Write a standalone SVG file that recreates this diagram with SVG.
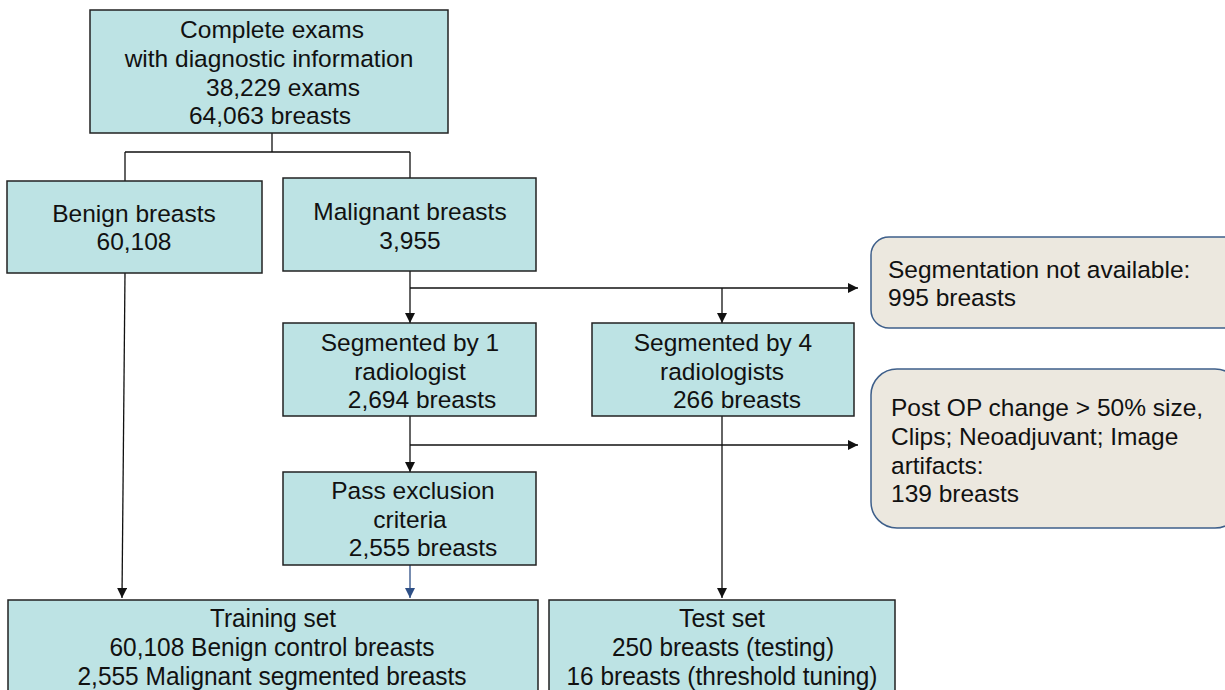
<svg xmlns="http://www.w3.org/2000/svg" width="1225" height="690" viewBox="0 0 1225 690">
<style>
.n{fill:#bde3e4;stroke:#222;stroke-width:1.5}
.r{fill:#ece8df;stroke:#3e5f8a;stroke-width:1.5}
text{font-family:"Liberation Sans",Arial,sans-serif;font-size:24.5px;fill:#111}
.c{text-anchor:middle}
.b{font-size:26px}
.l{fill:none;stroke:#111;stroke-width:1.3}
</style>
<defs>
<marker id="a" viewBox="0 0 10 10" refX="10" refY="5" markerWidth="10" markerHeight="10" markerUnits="userSpaceOnUse" orient="auto"><path d="M0,0 L10,5 L0,10 z" fill="#111"/></marker>
<marker id="ab" viewBox="0 0 10 10" refX="10" refY="5" markerWidth="10" markerHeight="10" markerUnits="userSpaceOnUse" orient="auto"><path d="M0,0 L10,5 L0,10 z" fill="#2e4f86"/></marker>
</defs>
<rect width="1225" height="690" fill="#fff"/>
<g id="connectors">
<path class="l" d="M272,133 V152 M125,152 H410 M125,152 V181 M410,152 V178"/>
<path class="l" d="M410,271 V323" marker-end="url(#a)"/>
<path class="l" d="M410,288 H858" marker-end="url(#a)"/>
<path class="l" d="M722,288 V323" marker-end="url(#a)"/>
<path class="l" d="M410,416 V472" marker-end="url(#a)"/>
<path class="l" d="M410,445 H858" marker-end="url(#a)"/>
<path class="l" d="M410,565 V598" style="stroke:#2e4f86" marker-end="url(#ab)"/>
<path class="l" d="M125,273 L122,598" marker-end="url(#a)"/>
<path class="l" d="M722,416 V598" marker-end="url(#a)"/>
</g>
<g id="complete">
<rect class="n" x="90" y="10" width="358" height="123"/>
<text class="c" x="272" y="38">Complete exams</text>
<text class="c" x="269" y="67">with diagnostic information</text>
<text class="c" x="283" y="96">38,229 exams</text>
<text class="c" x="270" y="124">64,063 breasts</text>
</g>
<g id="benign">
<rect class="n" x="7" y="181" width="255" height="92"/>
<text class="c" x="134" y="222">Benign breasts</text>
<text class="c" x="134" y="250">60,108</text>
</g>
<g id="malignant">
<rect class="n" x="283" y="178" width="253" height="93"/>
<text class="c" x="410" y="220">Malignant breasts</text>
<text class="c" x="410" y="249">3,955</text>
</g>
<g id="seg1">
<rect class="n" x="283" y="323" width="253" height="93"/>
<text class="c" x="410" y="351">Segmented by 1</text>
<text class="c" x="410" y="380">radiologist</text>
<text class="c" x="422" y="408">2,694 breasts</text>
</g>
<g id="seg4">
<rect class="n" x="592" y="323" width="262" height="93"/>
<text class="c" x="723" y="351">Segmented by 4</text>
<text class="c" x="722" y="380">radiologists</text>
<text class="c" x="737" y="408">266 breasts</text>
</g>
<g id="notavail">
<rect class="r" x="871" y="237" width="370" height="91" rx="18"/>
<text x="888" y="278">Segmentation not available:</text>
<text x="888" y="306">995 breasts</text>
</g>
<g id="postop">
<rect class="r" x="871" y="369" width="370" height="159" rx="26"/>
<text x="891" y="416">Post OP change &gt; 50% size,</text>
<text x="891" y="445">Clips; Neoadjuvant; Image</text>
<text x="891" y="474">artifacts:</text>
<text x="891" y="502">139 breasts</text>
</g>
<g id="pass">
<rect class="n" x="283" y="472" width="253" height="93"/>
<text class="c" x="413" y="499">Pass exclusion</text>
<text class="c" x="410" y="528">criteria</text>
<text class="c" x="423" y="556">2,555 breasts</text>
</g>
<g id="training">
<rect class="n" x="8" y="600" width="530" height="100"/>
<text class="c b" x="273" y="627" textLength="126" lengthAdjust="spacingAndGlyphs">Training set</text>
<text class="c b" x="272" y="656" textLength="325" lengthAdjust="spacingAndGlyphs">60,108 Benign control breasts</text>
<text class="c b" x="272" y="685" textLength="389" lengthAdjust="spacingAndGlyphs">2,555 Malignant segmented breasts</text>
</g>
<g id="test">
<rect class="n" x="549" y="600" width="346" height="100"/>
<text class="c b" x="722" y="627" textLength="86" lengthAdjust="spacingAndGlyphs">Test set</text>
<text class="c b" x="723" y="656" textLength="222" lengthAdjust="spacingAndGlyphs">250 breasts (testing)</text>
<text class="c b" x="722" y="685" textLength="311" lengthAdjust="spacingAndGlyphs">16 breasts (threshold tuning)</text>
</g>
</svg>
